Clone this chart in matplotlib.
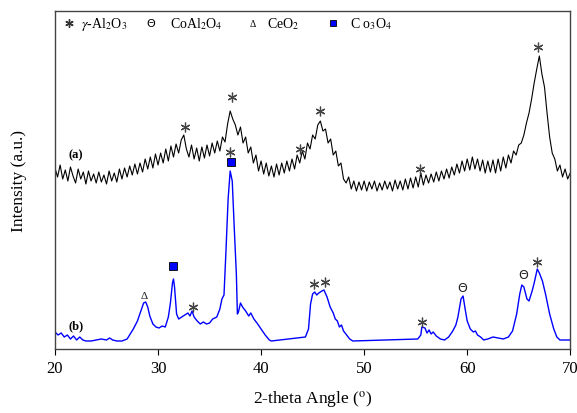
import numpy as np
import matplotlib
matplotlib.use('Agg')
import matplotlib.pyplot as plt

plt.rcParams['font.family'] = ['Liberation Serif', 'DejaVu Serif']
plt.rcParams['mathtext.fontset'] = 'stix'

# pattern (a): sampled every 0.25 deg from 20 to 70
int_a = [181, 172, 184, 170, 179, 168, 182, 173, 166, 180, 170, 177, 165, 178, 168, 175,
         166, 177, 167, 174, 165, 178, 168, 176, 167, 180, 170, 181, 172, 183, 174, 185,
         175, 186, 177, 190, 180, 192, 181, 195, 184, 196, 186, 200, 188, 203, 192, 205,
         196, 209, 214, 200, 192, 204, 190, 201, 188, 202, 191, 204, 193, 206, 196, 208,
         198, 212, 207, 225, 238, 230, 224, 214, 222, 206, 212, 196, 202, 186, 194, 178,
         188, 175, 186, 173, 183, 172, 185, 174, 186, 176, 188, 178, 190, 180, 194, 186,
         198, 190, 206, 200, 214, 210, 224, 228, 218, 220, 206, 210, 194, 198, 183, 186,
         170, 166, 172, 160, 168, 158, 167, 159, 168, 158, 167, 160, 168, 158, 166, 159,
         168, 160, 167, 158, 169, 160, 168, 159, 170, 160, 171, 161, 172, 162, 176, 164,
         174, 166, 175, 167, 177, 168, 178, 170, 180, 171, 182, 174, 185, 176, 188, 178,
         190, 179, 192, 180, 190, 178, 189, 176, 188, 177, 189, 176, 190, 178, 192, 181,
         194, 186, 198, 194, 204, 206, 214, 226, 236, 250, 266, 280, 293, 275, 262, 236,
         212, 196, 190, 178, 184, 172, 180, 170, 176]
theta_a = np.linspace(20, 70, len(int_a))

# pattern (b)
theta_b = [20.0, 20.3, 20.6, 20.9, 21.2, 21.5, 21.8, 22.1, 22.4, 22.7, 23.0, 23.5, 24.0, 24.5,
           25.0, 25.3, 25.6, 26.0, 26.5, 27.0, 27.3, 27.6, 28.0, 28.3, 28.6, 28.8, 29.0, 29.2,
           29.5, 29.8, 30.1, 30.4, 30.7, 31.0, 31.2, 31.4, 31.5, 31.6, 31.8, 32.0, 32.3, 32.6,
           32.9, 33.1, 33.3, 33.5, 33.8, 34.1, 34.4, 34.7, 35.0, 35.3, 35.7, 36.0, 36.2, 36.4,
           36.6, 36.8, 37.0, 37.2, 37.4, 37.6, 37.7, 37.8, 38.0, 38.2, 38.5, 38.8, 39.0, 39.3,
           39.6, 40.0, 40.4, 40.8, 41.0, 44.3, 44.6, 44.8, 45.0, 45.2, 45.4, 45.6, 45.9, 46.1,
           46.4, 46.7, 47.0, 47.2, 47.4, 47.6, 47.8, 48.0, 48.3, 48.6, 48.9, 55.2, 55.5, 55.6,
           55.9, 56.1, 56.3, 56.5, 56.7, 57.0, 57.4, 57.8, 58.2, 58.6, 58.9, 59.1, 59.4, 59.6,
           59.8, 60.0, 60.3, 60.6, 60.8, 61.0, 61.3, 61.6, 62.0, 62.5, 63.0, 63.5, 64.0, 64.4,
           64.8, 65.1, 65.3, 65.5, 65.8, 66.0, 66.3, 66.5, 66.8, 67.0, 67.3, 67.6, 68.0, 68.4,
           68.7, 69.0, 69.5, 70.0]
int_b = [17, 14, 16, 12, 14, 10, 13, 9, 12, 9, 8, 8, 9, 10,
         9, 11, 9, 8, 8, 10, 15, 20, 28, 37, 46, 47, 42, 33,
         25, 22, 21, 23, 22, 32, 46, 66, 70, 62, 35, 30, 32, 34,
         36, 33, 38, 32, 28, 25, 27, 25, 26, 30, 32, 40, 50, 54,
         100, 150, 178, 168, 120, 75, 35, 37, 46, 42, 38, 33, 36, 30,
         26, 20, 14, 9, 8, 12, 20, 45, 55, 57, 54, 56, 58, 59,
         52, 42, 36, 30, 28, 22, 24, 18, 14, 10, 8, 10, 14, 22,
         21, 16, 19, 15, 17, 13, 10, 9, 12, 18, 24, 32, 50, 53,
         40, 28, 20, 17, 18, 14, 12, 9, 10, 12, 11, 10, 12, 18,
         35, 55, 64, 62, 50, 48, 58, 66, 80, 76, 68, 55, 35, 20,
         12, 9, 9, 9]

# phase markers
star_x = [32.6, 37.2, 43.8, 45.7, 55.4, 66.9, 33.4, 37.0, 45.1, 46.2, 55.6, 66.8]
star_y = [222, 252, 200, 238, 180, 302, 42, 197, 65, 67, 27, 87]
sq_x = [31.5, 37.1]
sq_y = [83, 187]
delta_x = [28.7]
delta_y = [53]
theta_x = [59.5, 65.4]
theta_y = [61, 74]

fig = plt.figure(figsize=(5.77, 4.14), dpi=100)
ax = fig.add_axes([0.0953, 0.1546, 0.893, 0.8164])

ax.plot(theta_a, int_a, color='black', lw=0.8)
ax.plot(theta_b, int_b, color='blue', lw=1.0)

ax.plot(star_x, star_y, ls='', marker=(6, 2, 0), ms=7, mew=0.9, color='#444444')
ax.plot(sq_x, sq_y, ls='', marker='s', ms=6, mfc='blue', mec='black', mew=0.6)
for x, y in zip(delta_x, delta_y):
    ax.text(x, y, 'Δ', ha='center', va='center', fontsize=8, color='#222222')
for x, y in zip(theta_x, theta_y):
    ax.text(x, y, 'Θ', ha='center', va='center', fontsize=9, color='#222222', family='DejaVu Sans')

ax.text(21.3, 195, '(a)', fontsize=9, fontweight='bold', va='center')
ax.text(21.3, 24, '(b)', fontsize=9, fontweight='bold', va='center')

# legend row
ly = 326
ax.plot([21.4], [ly], ls='', marker=(6, 2, 0), ms=6, mew=1.0, color='#333333')
ax.text(22.5, ly, r'$\gamma$-Al$_2$O$_3$', fontsize=10, va='center')
ax.text(29.3, ly, 'Θ', fontsize=8, va='center', ha='center', family='DejaVu Sans')
ax.text(31.2, ly, r'CoAl$_2$O$_4$', fontsize=10, va='center')
ax.text(39.2, ly, 'Δ', fontsize=7, va='center', ha='center')
ax.text(40.6, ly, r'CeO$_2$', fontsize=10, va='center')
ax.plot([47.0], [ly], ls='', marker='s', ms=5, mfc='blue', mec='black', mew=0.6)
ax.text(48.6, ly, r'C o$_3$O$_4$', fontsize=10, va='center')

ax.set_xlim(20, 70)
ax.set_ylim(0, 338)
ax.set_xticks([20, 30, 40, 50, 60, 70])
ax.set_yticks([])
ax.tick_params(axis='x', direction='out', length=4, labelsize=12, pad=4)
for s in ax.spines.values():
    s.set_color('#444444')
    s.set_linewidth(1.0)
ax.set_xlabel(r'2-theta Angle ($^{\mathrm{o}}$)', fontsize=12.5, labelpad=9)
ax.set_ylabel('Intensity (a.u.)', fontsize=12.5, labelpad=20)

fig.savefig('out.png', dpi=100)
